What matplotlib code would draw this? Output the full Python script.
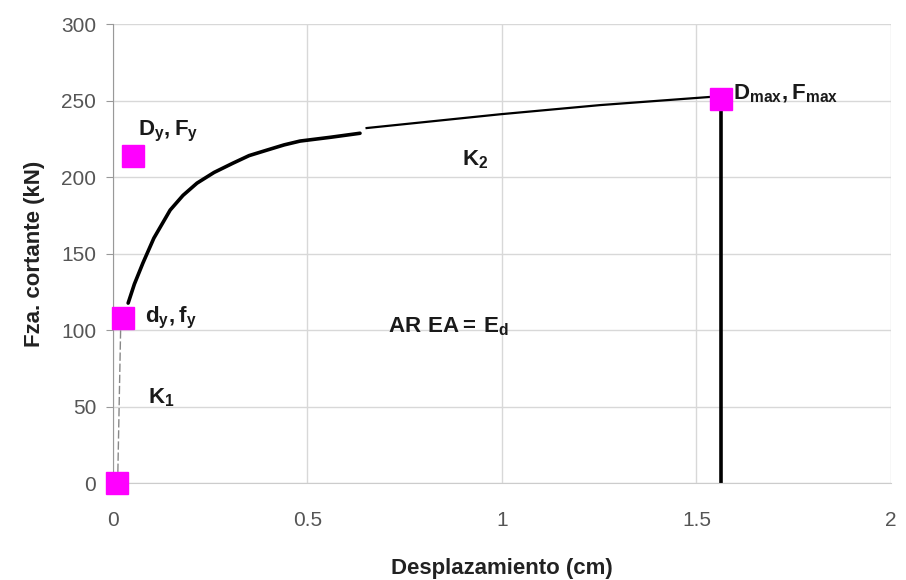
import numpy as np
import matplotlib
matplotlib.use("Agg")
import matplotlib.pyplot as plt

plt.rcParams['font.family'] = ['Liberation Sans', 'DejaVu Sans']
plt.rcParams['mathtext.fontset'] = 'custom'
plt.rcParams['mathtext.rm'] = 'Liberation Sans'
plt.rcParams['mathtext.bf'] = 'Liberation Sans:bold'

# curva fuerza-desplazamiento (tramo no lineal)
curve_x = [0.039, 0.055, 0.077, 0.105, 0.147, 0.180, 0.216, 0.260, 0.308, 0.350, 0.396, 0.440, 0.481, 0.560, 0.635]
curve_y = [117.6, 130.0, 143.8, 160.0, 178.4, 188.0, 196.0, 203.0, 209.0, 214.0, 217.6, 221.0, 223.5, 226.0, 228.6]
# tramo K2
k2_x = [0.652, 0.995, 1.252, 1.533]
k2_y = [232.0, 241.0, 247.0, 252.3]
# tramo K1
k1_x = [0.012, 0.020]
k1_y = [0.0, 105.0]
# puntos notables
pt_x = [0.010, 0.026, 0.051, 1.563]
pt_y = [0.0, 108.0, 214.0, 251.0]
d_max = 1.563
f_max = 251.0

fig = plt.figure(figsize=(9.06, 5.8), dpi=100)
ax = fig.add_axes([0.1247, 0.1672, 0.8587, 0.7914])

ax.plot(k1_x, k1_y, color='#888888', lw=1.0, dashes=(6, 2))
ax.plot(curve_x, curve_y, color='black', lw=2.6, solid_capstyle='round', solid_joinstyle='round')
ax.plot(k2_x, k2_y, color='black', lw=1.6)
ax.plot([k2_x[-1], d_max], [k2_y[-1], f_max], color='black', lw=1.0, dashes=(6, 3))
ax.plot([d_max, d_max], [0, f_max], color='black', lw=2.6)
ax.plot(pt_x, pt_y, 's', color='#FF00FF', markersize=16, linestyle='none', zorder=5, clip_on=False)

ax.set_xlim(0, 2)
ax.set_ylim(0, 300)
ax.set_xticks([0, 0.5, 1, 1.5, 2])
ax.set_xticklabels(['0', '0.5', '1', '1.5', '2'])
ax.set_yticks(np.arange(0, 301, 50))
ax.grid(True, color='#d8d8d8', lw=1.0)
ax.set_axisbelow(True)
for s in ['top', 'right']:
    ax.spines[s].set_visible(False)
ax.spines['left'].set_color('#999999')
ax.spines['bottom'].set_color('#cccccc')
ax.tick_params(axis='both', colors='#999999', labelcolor='#555555', labelsize=15, length=5)
ax.tick_params(axis='y', pad=7)
ax.tick_params(axis='x', pad=20, length=0)

ax.set_xlabel('Desplazamiento (cm)', fontsize=16, fontweight='bold', color='#222222', labelpad=20)
ax.set_ylabel('Fza. cortante (kN)', fontsize=16, fontweight='bold', color='#222222', labelpad=12)

tk = dict(fontsize=16, color='#1a1a1a', ha='left', va='center')
ax.text(0.064, 230, r'$\mathbf{D_y, F_y}$', **tk)
ax.text(0.082, 108, r'$\mathbf{d_y, f_y}$', **tk)
ax.text(0.090, 56, r'$\mathbf{K_1}$', **tk)
ax.text(0.897, 211, r'$\mathbf{K_2}$', **tk)
ax.text(0.707, 102, r'$\mathbf{AR\ EA{=}\,E_d}$', **tk)
ax.text(1.594, 254, r'$\mathbf{D_{max}, F_{max}}$', **tk)

fig.savefig('out.png', dpi=100)
